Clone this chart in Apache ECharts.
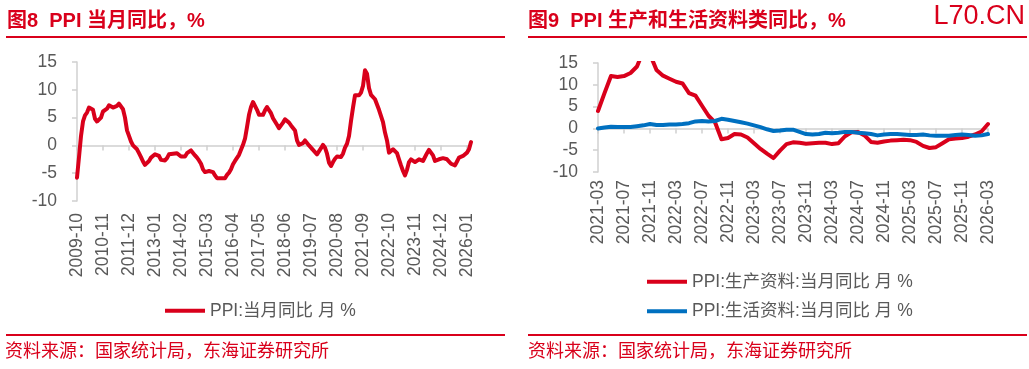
<!DOCTYPE html>
<html><head><meta charset="utf-8">
<script src="https://cdn.jsdelivr.net/npm/echarts@6/dist/echarts.min.js"></script>
<style>html,body{margin:0;padding:0;background:#fff}#c{width:1029px;height:369px}</style>
</head><body><div id="c"></div>
<script>
// ---- data ----
const ppiStart = [2009, 10];
const ppiValues = [
  -5.8,-2.1,1.7,
  4.3,5.4,5.9,6.8,7.1,6.4,4.8,4.3,4.3,5.0,6.1,5.9,
  6.6,7.2,7.3,6.8,6.8,7.1,7.5,7.3,6.5,5.0,2.7,1.7,
  0.7,0.0,-0.3,-0.7,-1.4,-2.1,-2.9,-3.5,-3.6,-2.8,-2.2,-1.9,
  -1.6,-1.6,-1.9,-2.6,-2.9,-2.7,-2.3,-1.6,-1.3,-1.5,-1.4,-1.4,
  -1.6,-2.0,-2.3,-2.0,-1.4,-1.1,-0.9,-1.2,-1.8,-2.2,-2.7,-3.3,
  -4.3,-4.8,-4.6,-4.6,-4.6,-4.8,-5.4,-5.9,-5.9,-5.9,-5.9,-5.9,
  -5.3,-4.9,-4.3,-3.4,-2.8,-2.6,-1.7,-0.8,0.1,1.2,3.3,5.5,
  6.9,7.8,7.6,6.4,5.5,5.5,5.5,6.3,6.9,6.9,5.8,4.9,
  4.3,3.7,3.1,3.4,4.1,4.7,4.6,4.1,3.6,3.3,2.7,0.9,
  0.1,0.1,0.4,0.9,0.6,0.0,-0.3,-0.8,-1.2,-1.6,-1.4,-0.5,
  0.1,-0.4,-1.5,-3.1,-3.7,-3.0,-2.4,-2.0,-2.1,-2.1,-1.5,-0.4,
  0.3,1.7,4.4,6.8,9.0,8.8,9.0,9.5,10.7,13.5,12.9,10.3,
  9.1,8.8,8.3,8.0,6.4,6.1,4.2,2.3,0.9,-1.3,-1.3,-0.7,
  -0.8,-1.4,-2.5,-3.6,-4.6,-5.4,-4.4,-3.0,-2.5,-2.6,-3.0,-2.7,
  -2.5,-2.7,-2.8,-2.5,-1.4,-0.8,-0.8,-1.8,-2.8,-2.9,-2.5,-2.3,
  -2.3,-2.2,-2.5,-2.7,-3.3,-3.6,-3.6,-2.9,-2.2,-2.0,-1.9,-1.8,
  -1.3,-0.7,0.6
];
const prodStart = [2021, 3];
const producerValues = [
  4.0,8.1,12.0,11.8,12.0,12.7,14.2,17.9,17.0,13.4,
  12.1,11.4,10.7,10.3,8.1,7.5,5.2,2.9,1.4,-2.5,-2.2,-1.3,
  -1.4,-2.1,-3.4,-4.7,-5.8,-6.8,-5.1,-3.6,-3.2,-3.3,-3.5,-3.4,
  -3.3,-3.3,-3.6,-3.4,-1.8,-0.9,-0.8,-1.6,-3.1,-3.3,-3.0,-2.8,
  -2.7,-2.6,-2.7,-3.1,-4.0,-4.5,-4.3,-3.4,-2.5,-2.3,-2.2,-1.9,
  -1.4,-0.7,1.0
];
const livingValues = [
  0.0,0.2,0.4,0.3,0.3,0.3,0.5,0.7,1.0,0.8,
  0.8,0.9,0.9,1.0,1.2,1.6,1.7,1.6,1.7,2.2,2.0,1.7,
  1.4,1.1,0.7,0.3,-0.2,-0.6,-0.5,-0.3,-0.3,-0.8,-1.3,-1.4,
  -1.3,-1.0,-1.1,-1.0,-0.8,-0.8,-1.0,-1.1,-1.3,-1.6,-1.4,-1.3,
  -1.3,-1.4,-1.5,-1.5,-1.4,-1.6,-1.7,-1.7,-1.7,-1.5,-1.4,-1.5,
  -1.7,-1.6,-1.3
];
const yTicks = {min: -10, max: 15, interval: 5};
const titleLeft = '图8  PPI 当月同比，%';
const titleRight = '图9  PPI 生产和生活资料类同比，%';
const legendLeft = 'PPI:当月同比 月 %';
const legendProd = 'PPI:生产资料:当月同比 月 %';
const legendLiving = 'PPI:生活资料:当月同比 月 %';
const sourceText = '资料来源：国家统计局，东海证券研究所';
const watermark = 'L70.CN';

function months(start, n) {
  const out = []; let y = start[0], m = start[1];
  for (let i = 0; i < n; i++) {
    out.push(y + '-' + (m < 10 ? '0' : '') + m);
    m++; if (m > 12) { m = 1; y++; }
  }
  return out;
}
const catsL = months(ppiStart, ppiValues.length);
const catsR = months(prodStart, producerValues.length);

const RED = '#d9001b', BLUE = '#0070c0', GRAY = '#595959', AXIS = '#d0d0d0';
const FONT = "'Liberation Sans','Noto Sans CJK SC',sans-serif";
const AX_FS = 17.5;

function xLineAxis(grid, cats, every) {
  return {gridIndex: grid, type: 'category', data: cats, boundaryGap: false,
    axisLine: {onZero: true, lineStyle: {color: AXIS, width: 1.5}},
    axisTick: {interval: every - 1, length: 5, lineStyle: {color: AXIS, width: 1.5}},
    axisLabel: {show: false}, splitLine: {show: false}};
}
function xLabelAxis(grid, cats, every, margin) {
  return {gridIndex: grid, type: 'category', data: cats, boundaryGap: false, position: 'bottom',
    axisLine: {show: false, onZero: false}, axisTick: {show: false},
    axisLabel: {interval: every - 1, rotate: 90, margin: margin, fontSize: AX_FS, color: GRAY, fontFamily: FONT},
    splitLine: {show: false}};
}
function yAxis(grid) {
  return {gridIndex: grid, type: 'value', min: yTicks.min, max: yTicks.max, interval: yTicks.interval,
    axisLine: {show: true, lineStyle: {color: AXIS, width: 1.5}},
    axisTick: {show: true, length: 5, lineStyle: {color: AXIS, width: 1.5}},
    axisLabel: {margin: 20, fontSize: AX_FS, color: GRAY, fontFamily: FONT},
    splitLine: {show: false}};
}

const chart = echarts.init(document.getElementById('c'), null, {renderer: 'canvas'});
chart.setOption({
  animation: false,
  backgroundColor: '#ffffff',
  grid: [
    {left: 77, right: 1029 - 471, top: 62, bottom: 369 - 201},
    {left: 598, right: 1029 - 988, top: 63, bottom: 369 - 172}
  ],
  xAxis: [
    xLineAxis(0, catsL, 13), xLabelAxis(0, catsL, 13, 12),
    xLineAxis(1, catsR, 4), xLabelAxis(1, catsR, 4, 8)
  ],
  yAxis: [yAxis(0), yAxis(1)],
  legend: [
    {left: 160, top: 297, itemWidth: 40, itemHeight: 4, icon: 'rect', itemGap: 10,
     textStyle: {fontSize: AX_FS, color: GRAY, fontFamily: FONT}, data: [legendLeft]},
    {left: 642, top: 268, orient: 'vertical', itemWidth: 40, itemHeight: 4, icon: 'rect', itemGap: 12,
     textStyle: {fontSize: AX_FS, color: GRAY, fontFamily: FONT}, data: [legendProd, legendLiving]}
  ],
  series: [
    {name: legendLeft, type: 'line', xAxisIndex: 0, yAxisIndex: 0, data: ppiValues,
     showSymbol: false, symbol: 'none', lineStyle: {color: RED, width: 4, join: 'round', cap: 'round'}, itemStyle: {color: RED}},
    {name: legendProd, type: 'line', xAxisIndex: 2, yAxisIndex: 1, data: producerValues,
     showSymbol: false, symbol: 'none', lineStyle: {color: RED, width: 4, join: 'round', cap: 'round'}, itemStyle: {color: RED}},
    {name: legendLiving, type: 'line', xAxisIndex: 2, yAxisIndex: 1, data: livingValues,
     showSymbol: false, symbol: 'none', lineStyle: {color: BLUE, width: 4, join: 'round', cap: 'round'}, itemStyle: {color: BLUE}}
  ],
  graphic: [
    {type: 'text', left: 7, top: 11, style: {text: titleLeft, fontSize: 20, fontWeight: 'bold', fill: RED, fontFamily: FONT}},
    {type: 'text', left: 528, top: 11, style: {text: titleRight, fontSize: 20, fontWeight: 'bold', fill: RED, fontFamily: FONT}},
    {type: 'text', right: 4, top: 3, style: {text: watermark, fontSize: 27, fill: RED, fontFamily: "'Liberation Sans',sans-serif"}},
    {type: 'line', shape: {x1: 6, y1: 37, x2: 505, y2: 37}, style: {stroke: RED, lineWidth: 2}},
    {type: 'line', shape: {x1: 528, y1: 37, x2: 1027, y2: 37}, style: {stroke: RED, lineWidth: 2}},
    {type: 'line', shape: {x1: 6, y1: 335, x2: 505, y2: 335}, style: {stroke: RED, lineWidth: 2}},
    {type: 'line', shape: {x1: 528, y1: 335, x2: 1027, y2: 335}, style: {stroke: RED, lineWidth: 2}},
    {type: 'text', left: 5, top: 343, style: {text: sourceText, fontSize: 18, fill: RED, fontFamily: FONT}},
    {type: 'text', left: 528, top: 343, style: {text: sourceText, fontSize: 18, fill: RED, fontFamily: FONT}}
  ]
});
</script></body></html>
